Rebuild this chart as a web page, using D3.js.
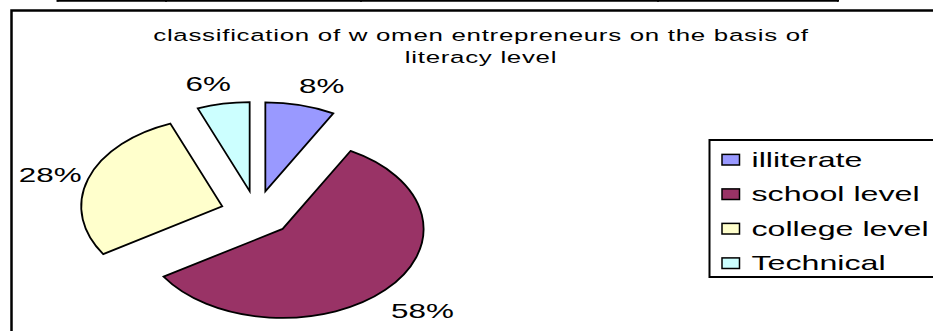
<!DOCTYPE html>
<html>
<head>
<meta charset="utf-8">
<script src="https://cdn.jsdelivr.net/npm/d3@7/dist/d3.min.js"></script>
<style>
  html, body { margin: 0; padding: 0; background: #fff; }
  svg { display: block; }
  text { font-family: "Liberation Sans", Arial, sans-serif; fill: #000; }
</style>
</head>
<body>
<div id="chart"></div>
<script>
// Literacy level of women entrepreneurs (share of respondents, %)
const categories = ["illiterate", "school level", "college level", "Technical"];
const shares = [8, 58, 28, 6];
const colors = ["#9999FF", "#993366", "#FFFFCC", "#CCFFFF"];
const titleLines = ["classification of w omen entrepreneurs on the basis of", "literacy level"];

const W = 933, H = 331;
const SX = 1.57;              // the chart is drawn stretched horizontally
const RY = 89, RX = RY * 1.584;
const cx = 256.4, cy = 213.4;
const explode = 0.255;        // slice pull-out, as a fraction of the radius

const svg = d3.select("#chart").append("svg")
  .attr("width", W).attr("height", H);

svg.append("rect").attr("width", W).attr("height", H).attr("fill", "#fff");

// strip of the table above the chart
const tableCols = [57.5, 166, 361, 658, 838];
svg.append("line")
  .attr("x1", tableCols[0]).attr("x2", tableCols[tableCols.length - 1])
  .attr("y1", 0.8).attr("y2", 0.8)
  .attr("stroke", "#000").attr("stroke-width", 2);
svg.selectAll("line.col").data(tableCols).join("line")
  .attr("class", "col")
  .attr("x1", d => d).attr("x2", d => d)
  .attr("y1", 0).attr("y2", 1.8)
  .attr("stroke", "#000").attr("stroke-width", 2);

// chart frame
svg.append("rect")
  .attr("x", 11.5).attr("y", 10.5)
  .attr("width", 1000).attr("height", 400)
  .attr("fill", "none").attr("stroke", "#000").attr("stroke-width", 2.5);

// helper: horizontally stretched text
function stretchedText(sel, x, y, str, size, anchor) {
  return sel.append("text")
    .attr("transform", `translate(${x},${y}) scale(${SX},1)`)
    .attr("text-anchor", anchor || "start")
    .style("font-size", size + "px")
    .text(str);
}

// title
titleLines.forEach((t, i) => {
  stretchedText(svg, 481, 40.7 + i * 22.6, t, 16.5, "middle")
    .style("letter-spacing", "0.45px");
});

// pie
const pie = d3.pie().sort(null).value(d => d.v);
const arcs = pie(shares.map((v, i) => ({ v, name: categories[i], color: colors[i] })));
const arc = d3.arc().innerRadius(0).outerRadius(RY);

const pieG = svg.append("g")
  .attr("transform", `translate(${cx},${cy}) scale(${RX / RY},1)`);

arcs.forEach(a => {
  const mid = (a.startAngle + a.endAngle) / 2;
  const ox = Math.sin(mid) * RY * explode;
  const oy = -Math.cos(mid) * RY * explode;
  pieG.append("path")
    .attr("d", arc(a))
    .attr("transform", `translate(${ox},${oy})`)
    .attr("fill", a.data.color)
    .attr("stroke", "#000")
    .attr("stroke-width", 1.8)
    .attr("stroke-linejoin", "miter")
    .attr("vector-effect", "non-scaling-stroke");
});

// percentage labels just outside each slice
const labelR = 1.53;
arcs.forEach(a => {
  const mid = (a.startAngle + a.endAngle) / 2;
  const s = Math.sin(mid), c = Math.cos(mid);
  const lx = cx + labelR * RX * s + 2 + Math.sign(s) * Math.abs(c) * 10;
  const ly = cy - labelR * RY * c + 4;
  stretchedText(svg, lx, ly + 7, a.data.v + "%", 20, "middle");
});

// legend
const legX = 709.5, legY = 140, legStep = 34.5;
svg.append("rect")
  .attr("x", legX).attr("y", legY)
  .attr("width", 400).attr("height", 137)
  .attr("fill", "#fff").attr("stroke", "#000").attr("stroke-width", 2);

categories.forEach((name, i) => {
  const yc = legY + 19.7 + i * legStep;
  svg.append("rect")
    .attr("x", legX + 12.5).attr("y", yc - 5.3)
    .attr("width", 17.5).attr("height", 10.6)
    .attr("fill", colors[i]).attr("stroke", "#000").attr("stroke-width", 1.5);
  stretchedText(svg, legX + 42, yc + 7, name, 20.5, "start");
});
</script>
</body>
</html>
